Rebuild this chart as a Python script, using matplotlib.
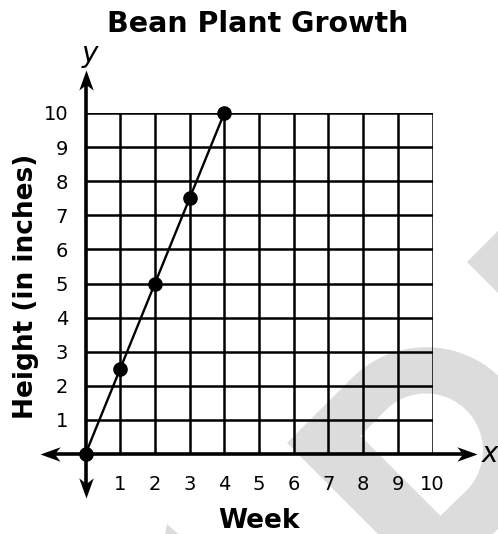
import numpy as np
import matplotlib
matplotlib.use("Agg")
import matplotlib.pyplot as plt
from matplotlib.path import Path
from matplotlib.markers import MarkerStyle
from matplotlib.transforms import Affine2D
from matplotlib.patches import Polygon

# ---- data ----
weeks = [0, 1, 2, 3, 4]
heights = [0, 2.5, 5, 7.5, 10]
x_ticks = [1, 2, 3, 4, 5, 6, 7, 8, 9, 10]
y_ticks = [1, 2, 3, 4, 5, 6, 7, 8, 9, 10]
grid_vals = list(range(0, 11))
title = "Bean Plant Growth"
xlabel = "Week"
ylabel = "Height (in inches)"

W, H = 498, 534
fig = plt.figure(figsize=(W / 100, H / 100), dpi=100)

# ---- watermark (background decoration, pixel coordinates) ----
bg = fig.add_axes([0, 0, 1, 1], zorder=0)
bg.set_xlim(0, W)
bg.set_ylim(H, 0)
bg.axis("off")
wm = "#dcdcdc"
ox, oy = 287, 443
s2 = np.sqrt(2)


def to_px(u, v):
    u = np.asarray(u, float)
    v = np.asarray(v, float)
    return np.column_stack([ox + (u + v) / s2, oy + (v - u) / s2])


def d_shape(u0, v0, v1, uc, r):
    vc = (v0 + v1) / 2
    th = np.linspace(-np.pi / 2, np.pi / 2, 60)
    us = [u0] + list(uc + r * np.cos(th)) + [u0]
    vs = [v0] + list(vc + r * np.sin(th)) + [v1]
    return to_px(us, vs)


bg.add_patch(Polygon(d_shape(0, 0, 210, 92, 105), closed=True, fc=wm, ec="none"))
bg.add_patch(Polygon(d_shape(57, 47, 160, 93, 57), closed=True, fc="white", ec="none"))
bg.add_patch(Polygon([(467, 262), (560, 169), (560, 355)], closed=True, fc=wm, ec="none"))
bg.add_patch(Polygon([(167, 524), (164, 540), (185, 540)], closed=True, fc=wm, ec="none"))

# ---- main axes ----
x0p, x10p, y0p, y10p = 85.5, 432.5, 454, 113
ax = fig.add_axes([x0p / W, 1 - y0p / H, (x10p - x0p) / W, (y0p - y10p) / H], zorder=2)
ax.patch.set_visible(False)
ax.set_xlim(0, 10)
ax.set_ylim(0, 10)
for sp in ax.spines.values():
    sp.set_visible(False)

ax.vlines(grid_vals[1:], 0, 10, colors="black", lw=1.8, zorder=2)
ax.hlines(grid_vals[1:], 0, 10, colors="black", lw=1.8, zorder=2)

# axes with stealth arrowheads
head = Path([(0, 0), (-1, 0.36), (-0.72, 0), (-1, -0.36), (0, 0)],
            [Path.MOVETO, Path.LINETO, Path.LINETO, Path.LINETO, Path.CLOSEPOLY])
xl, xr = -1.31, 11.28
yb, yt = -1.29, 11.26
ax.plot([xl + 0.3, xr - 0.3], [0, 0], color="black", lw=2.6, clip_on=False, zorder=3,
        solid_capstyle="butt")
ax.plot([0, 0], [yb + 0.3, yt - 0.3], color="black", lw=2.6, clip_on=False, zorder=3,
        solid_capstyle="butt")
for (px, py, ang) in [(xr, 0, 0), (xl, 0, 180), (0, yt, 90), (0, yb, 270)]:
    m = MarkerStyle(head, transform=Affine2D().rotate_deg(ang))
    ax.plot([px], [py], marker=m, markersize=29, color="black", mec="black", mew=0,
            clip_on=False, zorder=4, linestyle="none")

ax.text(xr + 0.13, 0, "x", fontsize=20, style="italic", ha="left", va="center",
        clip_on=False)
ax.text(0.13, 11.72, "y", fontsize=20, style="italic", ha="center", va="center",
        clip_on=False)

# data line
ax.plot(weeks, heights, color="black", lw=1.7, marker="o", markersize=9.5,
        clip_on=False, zorder=5)

ax.set_xticks(x_ticks)
ax.set_yticks(y_ticks)
ax.set_xticklabels([str(t) for t in x_ticks], fontsize=14)
ax.set_yticklabels([str(t) for t in y_ticks], fontsize=14)
ax.tick_params(axis="x", length=0, pad=15)
ax.tick_params(axis="y", length=0, pad=12.5)

fig.text(258 / W, 1 - 32 / H, title, fontsize=20.5, fontweight="bold",
         ha="center", va="baseline")
fig.text(259 / W, 1 - 528 / H, xlabel, fontsize=19, fontweight="bold",
         ha="center", va="baseline")
fig.text(26 / W, 1 - 286 / H, ylabel, fontsize=19, fontweight="bold",
         ha="center", va="center", rotation=90)

fig.savefig("out.png", dpi=100)
